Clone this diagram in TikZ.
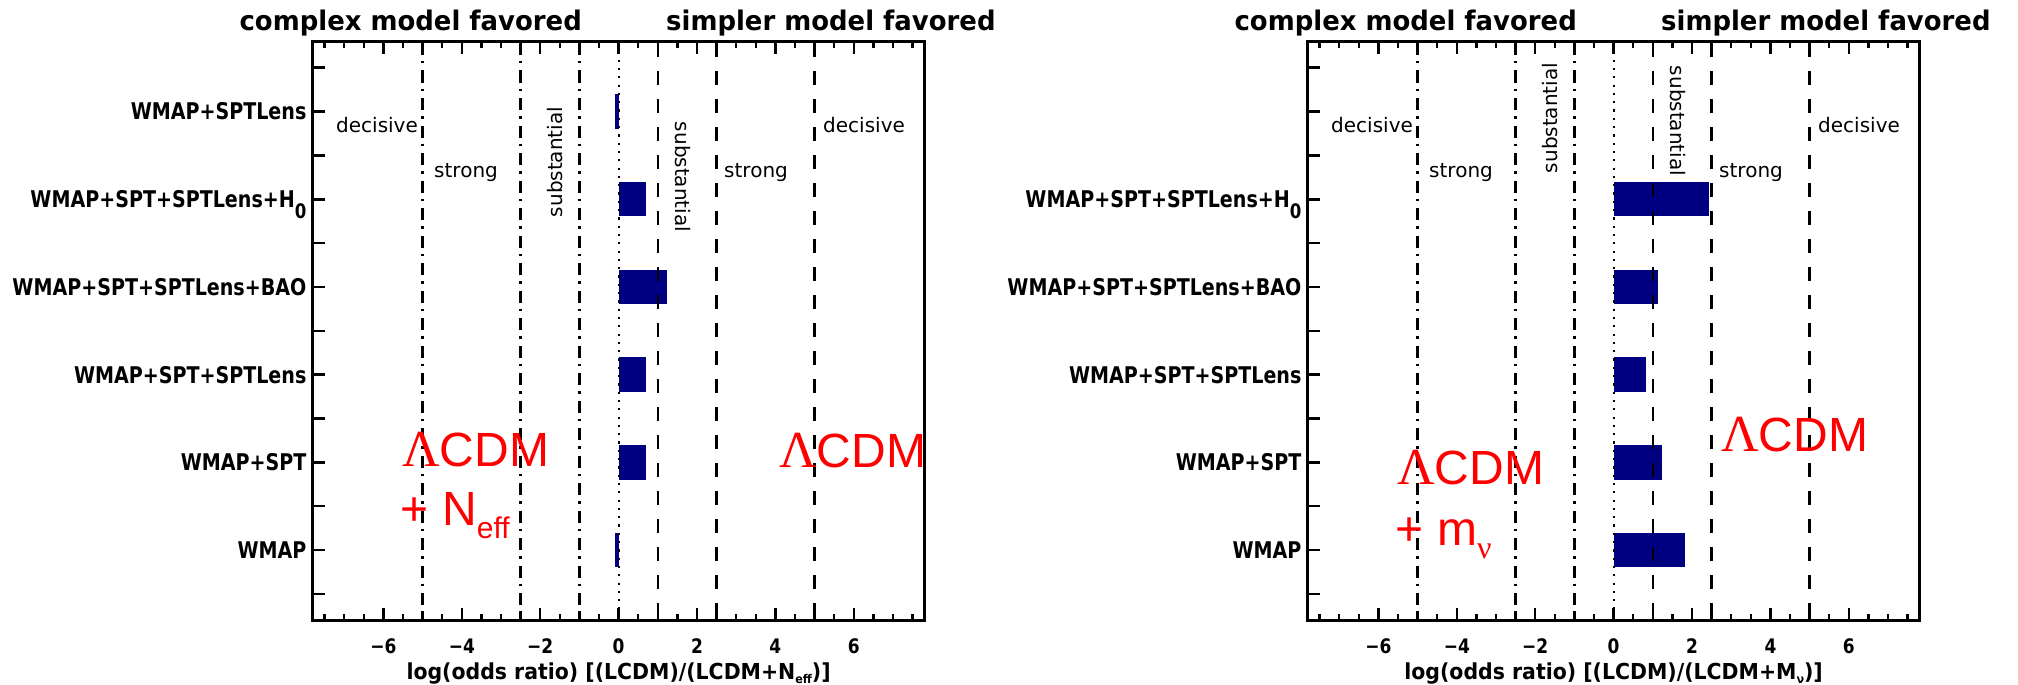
\documentclass[tikz,border=0pt]{standalone}
\usepackage{fontspec}
\newfontfamily\dvs{DejaVu Sans}
\newfontfamily\rowfont{DejaVu Sans}[FakeStretch=0.83]
\newfontfamily\tickfont{DejaVu Sans}[FakeStretch=0.85]
\newfontfamily\xlabfont{DejaVu Sans}[FakeStretch=0.93]
\newfontfamily\headfont{DejaVu Sans}[FakeStretch=0.96]
\newfontfamily\redsans{Liberation Sans}
\newfontfamily\redserif{Liberation Serif}
\definecolor{barblue}{RGB}{0,0,128}
\newcommand\lam{{\redserif\fontsize{52}{52}\selectfont Λ}}

\begin{document}
\begin{tikzpicture}[x=1pt,y=-1pt,
  axisline/.style={line width=3pt},
  tickmark/.style={line width=2.5pt},
  refdash/.style={line width=2.5pt, dash pattern=on 14pt off 14pt},
  refdashdot/.style={line width=2.5pt, dash pattern=on 12pt off 6pt on 2.5pt off 7pt},
  refdot/.style={line width=2.2pt, dash pattern=on 2.2pt off 6.1pt},
  bar/.style={fill=barblue, draw=none},
  rowlabel/.style={font=\rowfont\bfseries\fontsize{23}{23}\selectfont, inner sep=0pt, anchor=base east},
  ticklabel/.style={font=\tickfont\bfseries\fontsize{20}{20}\selectfont, inner sep=0pt, anchor=base},
  axislabel/.style={font=\xlabfont\bfseries\fontsize{22}{22}\selectfont, inner sep=0pt, anchor=base},
  toplabel/.style={font=\headfont\bfseries\fontsize{27}{27}\selectfont, inner sep=0pt},
  zone/.style={font=\dvs\fontsize{20}{20}\selectfont, inner sep=0pt, anchor=base west},
  zonerot/.style={font=\dvs\fontsize{20}{20}\selectfont, inner sep=0pt, anchor=center},
  model/.style={font=\redsans\fontsize{48}{48}\selectfont, text=red, inner sep=0pt, anchor=base west}]
\useasboundingbox (0,0) rectangle (2018,685);
\fill[white] (0,0) rectangle (2018,685);

% ---------------- left panel: N_eff ----------------
\begin{scope}[shift={(618.6,0)}]
  % odds-ratio bars
  \fill[bar] (-3.6,94.35) rectangle (0,128.75);
  \fill[bar] (0,182.05) rectangle (27.4,216.45);
  \fill[bar] (0,269.75) rectangle (48.6,304.15);
  \fill[bar] (0,357.45) rectangle (27.4,391.85);
  \fill[bar] (0,445.15) rectangle (27.4,479.55);
  \fill[bar] (-3.9,532.85) rectangle (0,567.25);
  % Jeffreys-scale boundaries
  \draw[refdashdot] (-196,43) -- (-196,619);
  \draw[refdashdot] (-98,43) -- (-98,619);
  \draw[refdashdot] (-39.2,43) -- (-39.2,619);
  \draw[refdot] (0,43) -- (0,619);
  \draw[refdash] (39.2,43) -- (39.2,619);
  \draw[refdash] (98,43) -- (98,619);
  \draw[refdash] (196,43) -- (196,619);
  % frame and ticks
  \draw[axisline] (-305.8,42) rectangle (305.8,620);
  \foreach \k in {-15,...,15} {
    \draw[tickmark] ({19.6*(\k)},620) -- ++(0,-6.5);
    \draw[tickmark] ({19.6*(\k)},42) -- ++(0,6.5);
  }
  \foreach \m in {-3,...,3} {
    \draw[tickmark] ({78.4*(\m)},620) -- ++(0,-12);
    \draw[tickmark] ({78.4*(\m)},42) -- ++(0,12);
  }
  \foreach \j in {0,...,12}
    \draw[tickmark] (-305.8,{67.7+43.85*\j}) -- ++(12,0);
  \foreach \v/\t [count=\i] in {-3/−6,-2/−4,-1/−2,0/0,1/2,2/4,3/6}
    \node[ticklabel] (Ltick\i) at ({78.4*(\v)},653) {\t};
  \node[axislabel] (Lxlabel) at (0,679)
    {log(odds ratio) [(LCDM)/(LCDM+N\raisebox{-4pt}{\fontsize{12}{12}\selectfont eff})]};
  % headings
  \node[toplabel, anchor=base east] (Ltop1) at (-36.6,31) {complex model favored};
  \node[toplabel, anchor=base west] (Ltop2) at (47.4,31) {simpler model favored};
  % zone names
  \node[zone] (Ldec1) at (-282.6,132) {decisive};
  \node[zone] (Lstr1) at (-184.6,177) {strong};
  \node[zonerot, rotate=90] (Lsub1) at (-64,162) {substantial};
  \node[zonerot, rotate=-90] (Lsub2) at (64.4,177) {substantial};
  \node[zone] (Lstr2) at (105.4,177) {strong};
  \node[zone] (Ldec2) at (204.4,132) {decisive};
  % data set names
  \node[rowlabel] (Lrow1) at (-312,119.9) {WMAP+SPTLens};
  \node[rowlabel] (Lrow2) at (-312,207.6) {WMAP+SPT+SPTLens+H\raisebox{-11pt}{\fontsize{20}{20}\selectfont 0}};
  \node[rowlabel] (Lrow3) at (-312,295.3) {WMAP+SPT+SPTLens+BAO};
  \node[rowlabel] (Lrow4) at (-312,383) {WMAP+SPT+SPTLens};
  \node[rowlabel] (Lrow5) at (-312,470.7) {WMAP+SPT};
  \node[rowlabel] (Lrow6) at (-312,558.4) {WMAP};
  % model names
  \node[model] (Lmod1) at (-216.6,466) {\lam CDM};
  \node[model] (Lmod2) at (-218,525) {+ N\raisebox{-13pt}{\fontsize{30}{30}\selectfont eff}};
  \node[model] (Lmod3) at (160.4,467) {\lam CDM};
\end{scope}

% ---------------- right panel: neutrino mass ----------------
\begin{scope}[shift={(1613.6,0)}]
  % odds-ratio bars
  \fill[bar] (0,182.05) rectangle (95.5,216.45);
  \fill[bar] (0,269.75) rectangle (44.2,304.15);
  \fill[bar] (0,357.45) rectangle (32.5,391.85);
  \fill[bar] (0,445.15) rectangle (48.7,479.55);
  \fill[bar] (0,532.85) rectangle (71.5,567.25);
  % Jeffreys-scale boundaries
  \draw[refdashdot] (-196,43) -- (-196,619);
  \draw[refdashdot] (-98,43) -- (-98,619);
  \draw[refdashdot] (-39.2,43) -- (-39.2,619);
  \draw[refdot] (0,43) -- (0,619);
  \draw[refdash] (39.2,43) -- (39.2,619);
  \draw[refdash] (98,43) -- (98,619);
  \draw[refdash] (196,43) -- (196,619);
  % frame and ticks
  \draw[axisline] (-305.8,42) rectangle (305.8,620);
  \foreach \k in {-15,...,15} {
    \draw[tickmark] ({19.6*(\k)},620) -- ++(0,-6.5);
    \draw[tickmark] ({19.6*(\k)},42) -- ++(0,6.5);
  }
  \foreach \m in {-3,...,3} {
    \draw[tickmark] ({78.4*(\m)},620) -- ++(0,-12);
    \draw[tickmark] ({78.4*(\m)},42) -- ++(0,12);
  }
  \foreach \j in {0,...,12}
    \draw[tickmark] (-305.8,{67.7+43.85*\j}) -- ++(12,0);
  \foreach \v/\t [count=\i] in {-3/−6,-2/−4,-1/−2,0/0,1/2,2/4,3/6}
    \node[ticklabel] (Rtick\i) at ({78.4*(\v)},653) {\t};
  \node[axislabel] (Rxlabel) at (0,679)
    {log(odds ratio) [(LCDM)/(LCDM+M\raisebox{-4pt}{\fontsize{12}{12}\selectfont ν})]};
  % headings
  \node[toplabel, anchor=base east] (Rtop1) at (-36.6,31) {complex model favored};
  \node[toplabel, anchor=base west] (Rtop2) at (47.4,31) {simpler model favored};
  % zone names
  \node[zone] (Rdec1) at (-282.6,132) {decisive};
  \node[zone] (Rstr1) at (-184.6,177) {strong};
  \node[zonerot, rotate=90] (Rsub1) at (-64,118) {substantial};
  \node[zonerot, rotate=-90] (Rsub2) at (64.4,121) {substantial};
  \node[zone] (Rstr2) at (105.4,177) {strong};
  \node[zone] (Rdec2) at (204.4,132) {decisive};
  % data set names
  \node[rowlabel] (Rrow2) at (-312,207.6) {WMAP+SPT+SPTLens+H\raisebox{-11pt}{\fontsize{20}{20}\selectfont 0}};
  \node[rowlabel] (Rrow3) at (-312,295.3) {WMAP+SPT+SPTLens+BAO};
  \node[rowlabel] (Rrow4) at (-312,383) {WMAP+SPT+SPTLens};
  \node[rowlabel] (Rrow5) at (-312,470.7) {WMAP+SPT};
  \node[rowlabel] (Rrow6) at (-312,558.4) {WMAP};
  % model names
  \node[model] (Rmod1) at (-216.6,484) {\lam CDM};
  \node[model] (Rmod2) at (-218,545) {+ m\raisebox{-13pt}{\redserif\fontsize{32}{32}\selectfont ν}};
  \node[model] (Rmod3) at (107.4,451.7) {\lam CDM};
\end{scope}
\end{tikzpicture}
\end{document}
